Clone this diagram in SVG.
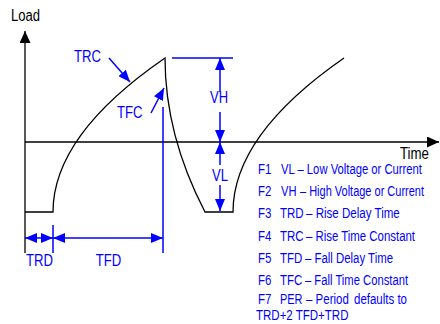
<svg xmlns="http://www.w3.org/2000/svg" width="440" height="324" viewBox="0 0 440 324">
<style>
.ax{stroke:#000;stroke-width:1.3;fill:none}
.wv{stroke:#000;stroke-width:1.3;fill:none}
.bl{stroke:#0000ff;stroke-width:1.5;fill:none}
.lbl{font-family:"Liberation Sans Narrow","Liberation Sans",Arial,sans-serif;font-size:16px;fill:#0000ff}
.ttl{font-family:"Liberation Sans Narrow","Liberation Sans",Arial,sans-serif;font-size:16px;fill:#000}
.leg{font-family:"Liberation Sans Narrow","Liberation Sans",Arial,sans-serif;font-size:14px;fill:#0000ff}
</style>
<defs>
<marker id="ab" markerUnits="userSpaceOnUse" viewBox="0 0 12 10" markerWidth="12" markerHeight="10" refX="12" refY="5" orient="auto-start-reverse">
<path d="M0,0 L12,5 L0,10 z" fill="#0000ff"/>
</marker>
<marker id="ak" markerUnits="userSpaceOnUse" viewBox="0 0 12 11" markerWidth="12" markerHeight="11" refX="12" refY="5.5" orient="auto">
<path d="M0,0 L12,5.5 L0,11 z" fill="#000"/>
</marker>
</defs>

<g id="axes">
<line class="ax" x1="25" y1="253" x2="25" y2="31" marker-end="url(#ak)"/>
<line class="ax" x1="25" y1="142" x2="439" y2="142" marker-end="url(#ak)"/>
<text class="ttl" x="11" y="21" textLength="29" lengthAdjust="spacingAndGlyphs">Load</text>
<text class="ttl" x="400" y="159" textLength="29" lengthAdjust="spacingAndGlyphs">Time</text>
</g>

<g id="waveform">
<path class="wv" d="M25,212 L53,212 Q53,135 165,58 Q165,135 205,212 L233,212 Q233,135 344,58"/>
</g>

<g id="connectors">
<line class="bl" x1="172" y1="58" x2="233" y2="58"/>
<line class="bl" x1="220" y1="92" x2="220" y2="58" marker-end="url(#ab)"/>
<line class="bl" x1="220" y1="112" x2="220" y2="142" marker-end="url(#ab)"/>
<line class="bl" x1="220" y1="165" x2="220" y2="142" marker-end="url(#ab)"/>
<line class="bl" x1="220" y1="185" x2="220" y2="211" marker-end="url(#ab)"/>
<line class="bl" x1="163" y1="107" x2="163" y2="253"/>
<line class="bl" x1="53" y1="225" x2="53" y2="253"/>
<line class="bl" x1="25" y1="238" x2="53" y2="238" marker-start="url(#ab)" marker-end="url(#ab)"/>
<line class="bl" x1="53" y1="238" x2="163" y2="238" marker-start="url(#ab)" marker-end="url(#ab)"/>
<line class="bl" x1="109" y1="58" x2="130" y2="82" marker-end="url(#ab)"/>
<line class="bl" x1="151" y1="113" x2="164" y2="88" marker-end="url(#ab)"/>
</g>

<g id="labels">
<text id="lbl-trc" class="lbl" x="74" y="62" textLength="27" lengthAdjust="spacingAndGlyphs">TRC</text>
<text id="lbl-tfc" class="lbl" x="117" y="118" textLength="25.5" lengthAdjust="spacingAndGlyphs">TFC</text>
<text id="lbl-vh" class="lbl" x="219" y="103" text-anchor="middle" textLength="18" lengthAdjust="spacingAndGlyphs">VH</text>
<text id="lbl-vl" class="lbl" x="220" y="181" text-anchor="middle" textLength="16" lengthAdjust="spacingAndGlyphs">VL</text>
<text id="lbl-trd" class="lbl" x="39.5" y="266" text-anchor="middle" textLength="27" lengthAdjust="spacingAndGlyphs">TRD</text>
<text id="lbl-tfd" class="lbl" x="108.5" y="266" text-anchor="middle" textLength="25.5" lengthAdjust="spacingAndGlyphs">TFD</text>
</g>

<g id="legend">
<text class="leg" x="258" y="173.5" textLength="13.4" lengthAdjust="spacingAndGlyphs">F1</text>
<text class="leg" x="281" y="173.5" textLength="141" lengthAdjust="spacingAndGlyphs">VL – Low Voltage or Current</text>
<text class="leg" x="258" y="196" textLength="13.4" lengthAdjust="spacingAndGlyphs">F2</text>
<text class="leg" x="281" y="196" textLength="15.5" lengthAdjust="spacingAndGlyphs">VH</text>
<text class="leg" x="300" y="196" textLength="124" lengthAdjust="spacingAndGlyphs">– High Voltage or Current</text>
<text class="leg" x="258" y="218" textLength="13.4" lengthAdjust="spacingAndGlyphs">F3</text>
<text class="leg" x="280" y="218" textLength="23.6" lengthAdjust="spacingAndGlyphs">TRD</text>
<text class="leg" x="306" y="218" textLength="93.8" lengthAdjust="spacingAndGlyphs">– Rise Delay Time</text>
<text class="leg" x="258" y="241" textLength="13.4" lengthAdjust="spacingAndGlyphs">F4</text>
<text class="leg" x="280" y="241" textLength="23.6" lengthAdjust="spacingAndGlyphs">TRC</text>
<text class="leg" x="306" y="241" textLength="109" lengthAdjust="spacingAndGlyphs">– Rise Time Constant</text>
<text class="leg" x="258" y="263" textLength="13.4" lengthAdjust="spacingAndGlyphs">F5</text>
<text class="leg" x="280" y="263" textLength="22.3" lengthAdjust="spacingAndGlyphs">TFD</text>
<text class="leg" x="305" y="263" textLength="88" lengthAdjust="spacingAndGlyphs">– Fall Delay Time</text>
<text class="leg" x="258" y="284.5" textLength="13.4" lengthAdjust="spacingAndGlyphs">F6</text>
<text class="leg" x="280" y="284.5" textLength="22.3" lengthAdjust="spacingAndGlyphs">TFC</text>
<text class="leg" x="305" y="284.5" textLength="103" lengthAdjust="spacingAndGlyphs">– Fall Time Constant</text>
<text class="leg" x="258" y="304" textLength="13.4" lengthAdjust="spacingAndGlyphs">F7</text>
<text class="leg" x="280" y="304" textLength="22.5" lengthAdjust="spacingAndGlyphs">PER</text>
<text class="leg" x="306" y="304" textLength="42.8" lengthAdjust="spacingAndGlyphs">– Period</text>
<text class="leg" x="354" y="304" textLength="53" lengthAdjust="spacingAndGlyphs">defaults to</text>
<text class="leg" x="256" y="320" textLength="92.5" lengthAdjust="spacingAndGlyphs">TRD+2 TFD+TRD</text>
</g>
</svg>
